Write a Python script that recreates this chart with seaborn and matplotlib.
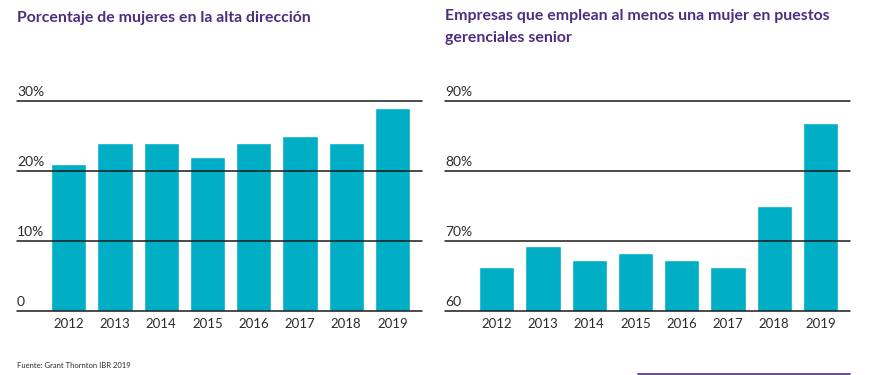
import matplotlib
matplotlib.use('Agg')
import matplotlib.pyplot as plt
import seaborn as sns
import pandas as pd

years = ['2012', '2013', '2014', '2015', '2016', '2017', '2018', '2019']
mujeres_alta_direccion = [21, 24, 24, 22, 24, 25, 24, 29]
empresas_una_mujer = [66.3, 69.3, 67.3, 68.3, 67.3, 66.3, 75, 86.8]

left_ticks = [0, 10, 20, 30]
left_tick_labels = ['0', '10%', '20%', '30%']
right_ticks = [60, 70, 80, 90]
right_tick_labels = ['60', '70%', '80%', '90%']

title_left = 'Porcentaje de mujeres en la alta dirección'
title_right = 'Empresas que emplean al menos una mujer en puestos\ngerenciales senior'
source = 'Fuente: Grant Thornton IBR 2019'

BAR = '#00AEC5'
PURPLE = '#4F2D7F'
TXT = '#2b2b2b'

sns.set_theme(style='white')
plt.rcParams['font.family'] = ['Lato', 'DejaVu Sans']

fig = plt.figure(figsize=(8.71, 3.75), dpi=100)
ax_l = fig.add_axes([17 / 871, 64 / 375, 405 / 871, 210 / 375])
ax_r = fig.add_axes([445 / 871, 64 / 375, 405 / 871, 210 / 375])


def draw_panel(ax, values, ticks, labels, title):
    df = pd.DataFrame({'year': years, 'value': values})
    sns.barplot(data=df, x='year', y='value', color=BAR, width=0.76,
                saturation=1, ax=ax, zorder=2)
    ax.set_xlim(-1.12, len(years) - 1 + 0.64)
    ax.set_ylim(ticks[0], ticks[-1])
    for t, lab in zip(ticks, labels):
        ax.axhline(t, color='#1a1a1a', lw=1.1, zorder=3, clip_on=False)
        ax.text(0, t + (ticks[-1] - ticks[0]) * 0.012, lab,
                transform=ax.get_yaxis_transform(), ha='left', va='bottom',
                fontsize=10, color=TXT)
    ax.set_yticks([])
    ax.set_xlabel('')
    ax.set_ylabel('')
    ax.tick_params(axis='x', length=0, pad=5, labelsize=9.5, labelcolor=TXT)
    for s in ax.spines.values():
        s.set_visible(False)
    ax.patch.set_alpha(0)


draw_panel(ax_l, mujeres_alta_direccion, left_ticks, left_tick_labels, title_left)
draw_panel(ax_r, empresas_una_mujer, right_ticks, right_tick_labels, title_right)

fig.text(17 / 871, 1 - 18 / 375, title_left, ha='left', va='center',
         fontsize=11.4, fontweight='bold', color=PURPLE)
fig.text(445 / 871, 1 - 9 / 375, title_right, ha='left', va='top',
         fontsize=11.4, fontweight='bold', color=PURPLE, linespacing=1.7)
fig.text(17 / 871, 1 - 366 / 375, source, ha='left', va='center',
         fontsize=5.5, color=TXT)
fig.add_artist(plt.Line2D([638 / 871, 850 / 871], [1 - 374 / 375] * 2,
                          color=PURPLE, lw=1.2))

fig.savefig('out.png', dpi=100)
